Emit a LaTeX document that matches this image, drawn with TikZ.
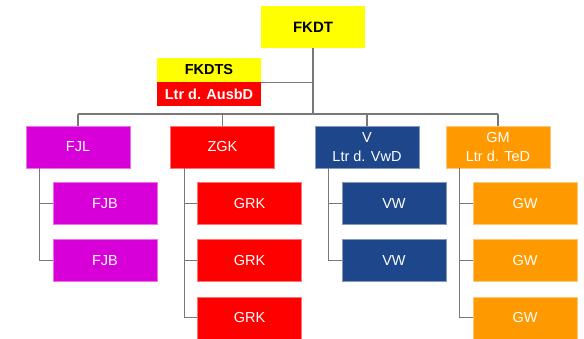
\documentclass[tikz,border=0pt]{standalone}
\usepackage{fontspec}
\setmainfont{Liberation Sans}
\usepackage{tikz}
\usetikzlibrary{positioning}
\definecolor{orgyellow}{RGB}{255,255,0}
\definecolor{orgred}{RGB}{255,0,0}
\definecolor{orgmagenta}{RGB}{216,0,216}
\definecolor{orgblue}{RGB}{30,70,138}
\definecolor{orgorange}{RGB}{255,153,0}
\definecolor{orgline}{RGB}{120,120,120}
\tikzset{
  unit/.style={draw=#1!55!white, fill=#1, line width=0.6pt, text=white, minimum width=104pt, minimum height=42pt, inner sep=2pt, align=center, font=\fontsize{14.5}{18.5}\selectfont},
  staff/.style={fill=#1, minimum width=104pt, minimum height=24pt, inner sep=1pt, align=center, font=\fontsize{14.5}{16}\selectfont\bfseries},
  conn/.style={draw=orgline, line width=1.2pt},
}
\begin{document}
\begin{tikzpicture}[x=1pt, y=-1pt]
    \useasboundingbox (0,0) rectangle (584,338);
    % top and staff
    \node[unit=orgyellow, draw=none, text=black, font=\fontsize{15}{17}\selectfont\bfseries] (fkdt) at (313,27) {FKDT};
    \node[staff=orgyellow] (fkdts) at (209,70) {FKDTS};
    \node[staff=orgred, text=white, below=0pt of fkdts] (ausbd) {Ltr d. AusbD};
    \coordinate (bus) at (313,114);
    % departments
    \node[unit=orgmagenta] (fjl) at (78,147) {FJL};
    \node[unit=orgred] (zgk) at (222.5,147) {ZGK};
    \node[unit=orgblue] (v) at (367,147) {V\\Ltr d. VwD};
    \node[unit=orgorange] (gm) at (498,147) {GM\\Ltr d. TeD};
    % sub units
    \node[unit=orgmagenta, below=14pt of fjl, xshift=27pt] (fjb1) {FJB};
    \node[unit=orgmagenta, below=14.5pt of fjb1] (fjb2) {FJB};
    \node[unit=orgred, below=14pt of zgk, xshift=27pt] (grk1) {GRK};
    \node[unit=orgred, below=14.5pt of grk1] (grk2) {GRK};
    \node[unit=orgred, below=14.5pt of grk2] (grk3) {GRK};
    \node[unit=orgblue, below=14pt of v, xshift=27pt] (vw1) {VW};
    \node[unit=orgblue, below=14.5pt of vw1] (vw2) {VW};
    \node[unit=orgorange, below=14pt of gm, xshift=27pt] (gw1) {GW};
    \node[unit=orgorange, below=14.5pt of gw1] (gw2) {GW};
    \node[unit=orgorange, below=14.5pt of gw2] (gw3) {GW};
    % connectors
    \draw[conn] (fkdt) -- (bus);
    \draw[conn] (fkdts.south east) -- (fkdt |- fkdts.south east);
    \draw[conn] (fjl |- bus) -- (gm |- bus);
    \foreach \d in {fjl,zgk,v,gm}
      \draw[conn] (\d |- bus) -- (\d);
    \foreach \d/\last/\kids in {fjl/fjb2/{fjb1},zgk/grk3/{grk1,grk2},v/vw2/{vw1},gm/gw3/{gw1,gw2}} {
      \draw[conn] ([xshift=14pt]\d.south west) |- (\last.west);
      \foreach \k in \kids
        \draw[conn] ([xshift=14pt]\d.south west |- \k.west) -- (\k.west);
    }
\end{tikzpicture}
\end{document}
